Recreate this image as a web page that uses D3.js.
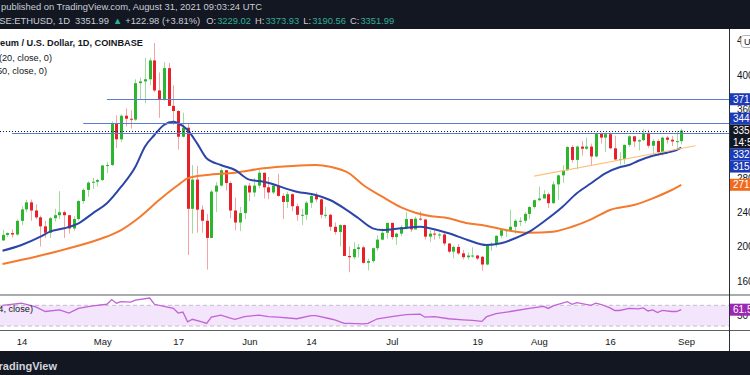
<!DOCTYPE html>
<html>
<head>
<meta charset="utf-8">
<script src="https://cdn.jsdelivr.net/npm/d3@7"></script>
<style>
  body { margin: 0; background: #fff; }
  svg { display: block; font-family: "Liberation Sans", Arial, sans-serif; }
</style>
</head>
<body>
<svg id="chart" width="750" height="375"></svg>
<script>
// daily candles: date, open, high, low, close
var candles = [
  ["2021-04-10",2071,2196,2064,2135],["2021-04-11",2135,2165,2113,2157],["2021-04-12",2157,2200,2105,2140],
  ["2021-04-13",2140,2318,2125,2299],["2021-04-14",2299,2470,2250,2433],["2021-04-15",2433,2545,2400,2515],
  ["2021-04-16",2515,2548,2300,2420],["2021-04-17",2420,2493,2320,2340],["2021-04-18",2340,2360,2000,2235],
  ["2021-04-19",2235,2300,2100,2160],["2021-04-20",2160,2345,2100,2330],["2021-04-21",2330,2440,2290,2365],
  ["2021-04-22",2365,2645,2320,2400],["2021-04-23",2400,2420,2100,2365],["2021-04-24",2365,2370,2150,2210],
  ["2021-04-25",2210,2350,2185,2320],["2021-04-26",2320,2545,2300,2530],["2021-04-27",2530,2675,2500,2660],
  ["2021-04-28",2660,2760,2580,2745],["2021-04-29",2745,2800,2670,2755],["2021-04-30",2755,2790,2700,2775],
  ["2021-05-01",2775,2950,2760,2945],["2021-05-02",2945,2985,2855,2950],["2021-05-03",2950,3460,2940,3430],
  ["2021-05-04",3430,3530,3150,3250],["2021-05-05",3250,3540,3220,3525],["2021-05-06",3525,3610,3400,3490],
  ["2021-05-07",3490,3590,3375,3480],["2021-05-08",3480,3950,3465,3905],["2021-05-09",3905,3970,3710,3925],
  ["2021-05-10",3925,4200,3670,3950],["2021-05-11",3950,4200,3880,4170],["2021-05-12",4170,4372,3800,3820],
  ["2021-05-13",3820,4030,3500,3720],["2021-05-14",3720,4150,3700,4080],["2021-05-15",4080,4140,3640,3640],
  ["2021-05-16",3640,3880,3420,3580],["2021-05-17",3580,3590,3130,3280],["2021-05-18",3280,3560,3270,3385],
  ["2021-05-19",3385,3440,1900,2440],["2021-05-20",2440,2950,2150,2780],["2021-05-21",2780,2940,2160,2430],
  ["2021-05-22",2430,2480,2160,2300],["2021-05-23",2300,2380,1730,2100],["2021-05-24",2100,2660,2100,2640],
  ["2021-05-25",2640,2750,2400,2710],["2021-05-26",2710,2910,2700,2890],["2021-05-27",2890,2890,2650,2740],
  ["2021-05-28",2740,2760,2330,2420],["2021-05-29",2420,2570,2190,2280],["2021-05-30",2280,2460,2180,2390],
  ["2021-05-31",2390,2720,2320,2710],["2021-06-01",2710,2740,2530,2630],["2021-06-02",2630,2800,2580,2710],
  ["2021-06-03",2710,2890,2680,2860],["2021-06-04",2860,2860,2560,2690],["2021-06-05",2690,2810,2550,2630],
  ["2021-06-06",2630,2740,2610,2710],["2021-06-07",2710,2850,2580,2590],["2021-06-08",2590,2620,2320,2520],
  ["2021-06-09",2520,2640,2450,2610],["2021-06-10",2610,2620,2410,2470],["2021-06-11",2470,2500,2300,2370],
  ["2021-06-12",2370,2440,2250,2370],["2021-06-13",2370,2530,2310,2510],["2021-06-14",2510,2620,2450,2590],
  ["2021-06-15",2590,2630,2520,2550],["2021-06-16",2550,2560,2330,2370],["2021-06-17",2370,2460,2330,2370],
  ["2021-06-18",2370,2380,2180,2230],["2021-06-19",2230,2280,2140,2170],["2021-06-20",2170,2260,2000,2250],
  ["2021-06-21",2250,2255,1890,1890],["2021-06-22",1890,2000,1700,1875],["2021-06-23",1875,2050,1850,1970],
  ["2021-06-24",1970,2030,1870,1990],["2021-06-25",1990,2010,1800,1810],["2021-06-26",1810,1860,1720,1830],
  ["2021-06-27",1830,1990,1810,1980],["2021-06-28",1980,2130,1950,2080],["2021-06-29",2080,2210,2070,2160],
  ["2021-06-30",2160,2280,2090,2275],["2021-07-01",2275,2280,2080,2110],["2021-07-02",2110,2160,2020,2150],
  ["2021-07-03",2150,2250,2120,2225],["2021-07-04",2225,2400,2200,2320],["2021-07-05",2320,2320,2170,2200],
  ["2021-07-06",2200,2350,2200,2325],["2021-07-07",2325,2410,2300,2315],["2021-07-08",2315,2320,2080,2115],
  ["2021-07-09",2115,2190,2050,2150],["2021-07-10",2150,2190,2080,2140],["2021-07-11",2140,2160,2090,2140],
  ["2021-07-12",2140,2160,2010,2035],["2021-07-13",2035,2040,1920,1940],["2021-07-14",1940,2010,1860,1995],
  ["2021-07-15",1995,2030,1900,1920],["2021-07-16",1920,1960,1850,1875],["2021-07-17",1875,1930,1850,1895],
  ["2021-07-18",1895,1990,1870,1895],["2021-07-19",1895,1900,1840,1860],["2021-07-20",1880,1890,1720,1790],
  ["2021-07-21",1790,2030,1780,2015],["2021-07-22",2015,2050,1950,2030],["2021-07-23",2030,2130,1990,2125],
  ["2021-07-24",2125,2200,2100,2190],["2021-07-25",2190,2200,2110,2190],["2021-07-26",2190,2430,2180,2230],
  ["2021-07-27",2230,2320,2150,2300],["2021-07-28",2300,2340,2240,2300],["2021-07-29",2300,2400,2270,2380],
  ["2021-07-30",2380,2470,2320,2460],["2021-07-31",2460,2550,2440,2540],["2021-08-01",2540,2700,2530,2560],
  ["2021-08-02",2560,2660,2560,2610],["2021-08-03",2610,2630,2450,2505],["2021-08-04",2505,2760,2500,2725],
  ["2021-08-05",2725,2840,2540,2830],["2021-08-06",2830,2950,2740,2890],["2021-08-07",2890,3170,2880,3160],
  ["2021-08-08",3160,3180,2980,3010],["2021-08-09",3010,3180,2900,3165],["2021-08-10",3165,3230,3060,3140],
  ["2021-08-11",3140,3270,3130,3165],["2021-08-12",3165,3200,2950,3050],["2021-08-13",3050,3330,3040,3320],
  ["2021-08-14",3320,3330,3200,3270],["2021-08-15",3270,3330,3100,3310],["2021-08-16",3310,3330,3140,3145],
  ["2021-08-17",3145,3290,3000,3015],["2021-08-18",3015,3100,2950,3020],["2021-08-19",3020,3190,2960,3185],
  ["2021-08-20",3185,3300,3160,3285],["2021-08-21",3285,3290,3160,3225],["2021-08-22",3225,3250,3120,3240],
  ["2021-08-23",3240,3370,3230,3325],["2021-08-24",3325,3360,3150,3175],["2021-08-25",3175,3250,3080,3230],
  ["2021-08-26",3230,3250,3060,3100],["2021-08-27",3100,3280,3060,3270],["2021-08-28",3270,3290,3200,3245],
  ["2021-08-29",3245,3290,3170,3225],["2021-08-30",3225,3350,3150,3229],["2021-08-31",3229.02,3373.93,3190.56,3351.99]
];

var ma20 = [
  ["2021-04-10",1950],["2021-04-14",2017],["2021-04-18",2114],["2021-04-20",2173],["2021-04-23",2212],
  ["2021-04-26",2270],["2021-04-29",2387],["2021-05-02",2504],["2021-05-05",2697],["2021-05-08",2931],
  ["2021-05-10",3164],["2021-05-12",3300],["2021-05-14",3417],["2021-05-16",3455],["2021-05-17",3437],
  ["2021-05-19",3359],["2021-05-21",3203],["2021-05-23",3029],["2021-05-26",2950],["2021-05-29",2892],
  ["2021-06-01",2780],["2021-06-04",2756],["2021-06-11",2639],["2021-06-15",2601],["2021-06-18",2542],
  ["2021-06-21",2445],["2021-06-24",2329],["2021-06-27",2212],["2021-06-29",2192],["2021-07-03",2212],
  ["2021-07-07",2231],["2021-07-09",2212],["2021-07-13",2154],["2021-07-17",2076],["2021-07-21",2017],
  ["2021-07-24",2037],["2021-07-27",2096],["2021-07-30",2173],["2021-08-02",2289],["2021-08-06",2464],
  ["2021-08-09",2620],["2021-08-12",2737],["2021-08-15",2854],["2021-08-18",2924],["2021-08-20",2950],
  ["2021-08-22",3000],["2021-08-25",3059],["2021-08-28",3094],["2021-08-30",3125],["2021-08-31",3153.42]
];

var ma50 = [
  ["2021-04-10",1796],["2021-04-17",1881],["2021-04-24",1979],["2021-05-01",2096],["2021-05-05",2192],
  ["2021-05-09",2347],["2021-05-13",2542],["2021-05-17",2717],["2021-05-19",2795],["2021-05-23",2834],
  ["2021-05-29",2861],["2021-06-04",2912],["2021-06-10",2939],["2021-06-15",2950],["2021-06-18",2931],
  ["2021-06-22",2854],["2021-06-25",2717],["2021-06-29",2581],["2021-07-03",2457],["2021-07-06",2394],
  ["2021-07-09",2356],["2021-07-13",2329],["2021-07-17",2271],["2021-07-20",2251],["2021-07-25",2192],
  ["2021-07-30",2161],["2021-08-04",2173],["2021-08-08",2231],["2021-08-12",2317],["2021-08-16",2426],
  ["2021-08-21",2484],["2021-08-25",2562],["2021-08-29",2659],["2021-08-31",2719.86]
];

var rsi = [
  ["2021-04-10",70],["2021-04-14",74],["2021-04-17",67],["2021-04-19",58],["2021-04-22",61],["2021-04-24",55],
  ["2021-04-26",64],["2021-04-29",69],["2021-05-02",72],["2021-05-03",81],["2021-05-04",74],["2021-05-05",77],
  ["2021-05-07",76],["2021-05-08",80],["2021-05-11",84],["2021-05-12",72],["2021-05-15",66],["2021-05-16",64],
  ["2021-05-17",55],["2021-05-18",57],["2021-05-19",38],["2021-05-20",43],["2021-05-22",38],["2021-05-23",35],
  ["2021-05-24",47],["2021-05-26",51],["2021-05-28",45],["2021-05-29",43],["2021-05-31",48],["2021-06-03",51],
  ["2021-06-05",48],["2021-06-07",47],["2021-06-11",44],["2021-06-14",50],["2021-06-15",50],["2021-06-18",44],
  ["2021-06-19",42],["2021-06-21",35],["2021-06-22",35],["2021-06-25",34],["2021-06-26",35],["2021-06-28",44],
  ["2021-07-01",48],["2021-07-04",52],["2021-07-07",53],["2021-07-08",47],["2021-07-10",48],["2021-07-13",44],
  ["2021-07-16",42],["2021-07-18",41],["2021-07-20",39],["2021-07-21",48],["2021-07-23",54],["2021-07-26",58],
  ["2021-07-30",64],["2021-08-02",68],["2021-08-03",64],["2021-08-04",69],["2021-08-07",77],["2021-08-08",72],
  ["2021-08-09",75],["2021-08-12",70],["2021-08-13",74],["2021-08-14",72],["2021-08-16",65],["2021-08-17",60],
  ["2021-08-18",60],["2021-08-20",64],["2021-08-22",63],["2021-08-23",65],["2021-08-24",59],["2021-08-25",61],
  ["2021-08-26",56],["2021-08-27",60],["2021-08-29",58],["2021-08-30",58],["2021-08-31",61.53]
];

// horizontal levels drawn on the chart: start date, price
var levels = [["2021-05-02",3717.43],["2021-04-27",3441.28],["2021-04-12",3324.57]];
var trend = [["2021-07-31",2820],["2021-09-03",3175]];

var priceTicks = [1600,2000,2400,2800,3200,3600,4000,4400];
var timeTicks = ["2021-04-14","2021-05-01","2021-05-17","2021-06-01","2021-06-14","2021-07-01","2021-07-19","2021-08-01","2021-08-16","2021-09-01"];
var timeLabels = ["14","May","17","Jun","14","Jul","19","Aug","16","Sep"];
var countdown = "14:56:36";

var parseDay = d3.utcParse("%Y-%m-%d");
var bars = candles.map(function(d){ return {date: parseDay(d[0]), o: d[1], h: d[2], l: d[3], c: d[4]}; });
function pts(rows){ return rows.map(function(d){ return {date: parseDay(d[0]), v: d[1]}; }); }

var svg = d3.select("#chart");
var plotRight = 729, mainTop = 29, mainBottom = 295, rsiBottom = 330.5, axisBottom = 351;

var x = d3.scaleUtc().domain([parseDay("2021-04-14"), parseDay("2021-09-01")]).range([21.5, 686]);
var y = d3.scaleLinear().domain([2000, 4000]).range([246.5, 75]);
var r = d3.scaleLinear().domain([30, 70]).range([326, 305.3]);

svg.append("rect").attr("width", 750).attr("height", 375).attr("fill", "#fff");

var defs = svg.append("defs");
defs.append("clipPath").attr("id", "mainClip").append("rect")
    .attr("x", 0).attr("y", mainTop).attr("width", plotRight).attr("height", mainBottom - mainTop);
defs.append("clipPath").attr("id", "rsiClip").append("rect")
    .attr("x", 0).attr("y", mainBottom).attr("width", plotRight).attr("height", rsiBottom - mainBottom);

// ---- RSI pane
var rg = svg.append("g").attr("clip-path", "url(#rsiClip)");
rg.append("rect").attr("x", 0).attr("width", plotRight)
    .attr("y", r(70)).attr("height", r(30) - r(70)).attr("fill", "#f3e5fc");
[70, 30].forEach(function(v){
  rg.append("line").attr("x1", 0).attr("x2", plotRight).attr("y1", r(v)).attr("y2", r(v))
    .attr("stroke", "#c3bccb").attr("stroke-dasharray", "4,3");
});
rg.append("path").datum(pts(rsi))
    .attr("d", d3.line().x(function(d){ return x(d.date); }).y(function(d){ return r(d.v); }))
    .attr("fill", "none").attr("stroke", "#c163d6").attr("stroke-width", 1.3);

// ---- main pane
var mg = svg.append("g").attr("clip-path", "url(#mainClip)");

mg.selectAll("line.wick").data(bars).join("line")
    .attr("class", "wick")
    .attr("x1", function(d){ return Math.round(x(d.date)) + 0.5; })
    .attr("x2", function(d){ return Math.round(x(d.date)) + 0.5; })
    .attr("y1", function(d){ return y(d.h); })
    .attr("y2", function(d){ return y(d.l); })
    .attr("stroke", function(d){ return d.c >= d.o ? "#9fdc9f" : "#f5a3a3"; });

mg.selectAll("rect.body").data(bars).join("rect")
    .attr("class", "body")
    .attr("x", function(d){ return Math.round(x(d.date)) - 1; })
    .attr("width", 3)
    .attr("y", function(d){ return y(Math.max(d.o, d.c)); })
    .attr("height", function(d){ return Math.max(1, Math.abs(y(d.o) - y(d.c))); })
    .attr("fill", function(d){ return d.c >= d.o ? "#2db52d" : "#e8202a"; });

var maLine = d3.line().curve(d3.curveMonotoneX)
    .x(function(d){ return x(d.date); }).y(function(d){ return y(d.v); });
mg.append("path").datum(pts(ma50)).attr("d", maLine)
    .attr("fill", "none").attr("stroke", "#f47a2e").attr("stroke-width", 2);
mg.append("path").datum(pts(ma20)).attr("d", maLine)
    .attr("fill", "none").attr("stroke", "#2b46a6").attr("stroke-width", 2);

mg.append("line")
    .attr("x1", x(parseDay(trend[0][0]))).attr("y1", y(trend[0][1]))
    .attr("x2", x(parseDay(trend[1][0]))).attr("y2", y(trend[1][1]))
    .attr("stroke", "#ffc07a").attr("stroke-width", 1.2);

levels.forEach(function(d){
  mg.append("line").attr("x1", x(parseDay(d[0]))).attr("x2", plotRight)
    .attr("y1", Math.round(y(d[1])) + 0.5).attr("y2", Math.round(y(d[1])) + 0.5)
    .attr("stroke", "#5d7bd4").attr("stroke-width", 1);
});
var last = bars[bars.length - 1];
mg.append("line").attr("x1", 0).attr("x2", plotRight)
    .attr("y1", Math.round(y(last.c)) + 0.5).attr("y2", Math.round(y(last.c)) + 0.5)
    .attr("stroke", "#131722").attr("stroke-dasharray", "1,2");

// ---- axes
var xAxis = d3.axisBottom(x)
    .tickValues(timeTicks.map(parseDay))
    .tickFormat(function(d, i){ return timeLabels[i]; })
    .tickSize(0);
var xg = svg.append("g").attr("transform", "translate(0,342)").call(xAxis);
xg.select(".domain").remove();
xg.selectAll("text").attr("y", 0).attr("dy", "0.35em")
    .attr("fill", "#131722").style("font-size", "9.5px").style("font-family", "Liberation Sans, Arial, sans-serif");

var yAxis = d3.axisRight(y).tickValues(priceTicks).tickFormat(d3.format("d")).tickSize(0);
var yg = svg.append("g").attr("transform", "translate(734,0)").call(yAxis);
yg.select(".domain").remove();
yg.selectAll("text").attr("fill", "#131722").style("font-size", "10px")
    .style("font-family", "Liberation Sans, Arial, sans-serif");

var rAxis = d3.axisRight(r).tickValues([50]).tickSize(0);
var rag = svg.append("g").attr("transform", "translate(734,0)").call(rAxis);
rag.select(".domain").remove();
rag.selectAll("text").attr("fill", "#131722").style("font-size", "10px")
    .style("font-family", "Liberation Sans, Arial, sans-serif");

// unit box near the top of the price scale
svg.append("rect").attr("x", 741).attr("y", 35.5).attr("width", 22).attr("height", 12).attr("rx", 3)
    .attr("fill", "#fff").attr("stroke", "#b2b5be");
svg.append("text").attr("x", 744).attr("y", 45).attr("font-size", 9).attr("fill", "#131722").text("USD");

// ---- price scale labels (stacked so they do not overlap)
var lh = 12;
var tags = levels.map(function(d){ return {v: d[1], fill: "#1b3bb8"}; })
  .concat([{v: ma20[ma20.length - 1][1], fill: "#1b3bb8"}, {v: ma50[ma50.length - 1][1], fill: "#f26b1d"}]);
tags.forEach(function(t){ t.top = y(t.v) - lh / 2; });
var pTop = y(last.c) - lh / 2, pBot = pTop + 2 * lh;
var above = tags.filter(function(t){ return t.v > last.c; }).sort(function(a, b){ return a.v - b.v; });
var below = tags.filter(function(t){ return t.v <= last.c; }).sort(function(a, b){ return b.v - a.v; });
var lim = pTop;
above.forEach(function(t){ if (t.top + lh > lim) t.top = lim - lh; lim = t.top; });
lim = pBot;
below.forEach(function(t){ if (t.top < lim) t.top = lim; lim = t.top + lh; });

tags.forEach(function(t){
  svg.append("rect").attr("x", 730).attr("y", t.top).attr("width", 20).attr("height", lh).attr("fill", t.fill);
  svg.append("text").attr("x", 733).attr("y", t.top + lh / 2).attr("dy", "0.35em")
    .attr("font-size", 10).attr("fill", "#fff").text(t.v.toFixed(2));
});
svg.append("rect").attr("x", 730).attr("y", pTop).attr("width", 20).attr("height", 2 * lh).attr("fill", "#131722");
svg.append("text").attr("x", 733).attr("y", pTop + lh / 2).attr("dy", "0.35em")
    .attr("font-size", 10).attr("fill", "#fff").text(last.c.toFixed(2));
svg.append("text").attr("x", 733).attr("y", pTop + lh * 1.5).attr("dy", "0.35em")
    .attr("font-size", 10).attr("fill", "#fff").text(countdown);

var rLast = rsi[rsi.length - 1][1];
svg.append("rect").attr("x", 730).attr("y", r(rLast) - 6).attr("width", 20).attr("height", 12).attr("fill", "#9c27b0");
svg.append("text").attr("x", 733).attr("y", r(rLast)).attr("dy", "0.35em")
    .attr("font-size", 10).attr("fill", "#fff").text(rLast.toFixed(2));

// ---- separators
svg.append("line").attr("x1", 0).attr("x2", 750).attr("y1", mainBottom).attr("y2", mainBottom)
    .attr("stroke", "#8e9097").attr("stroke-width", 1.6);
svg.append("line").attr("x1", 0).attr("x2", 750).attr("y1", rsiBottom).attr("y2", rsiBottom)
    .attr("stroke", "#5d5f66").attr("stroke-width", 1);
svg.append("line").attr("x1", plotRight + 0.5).attr("x2", plotRight + 0.5).attr("y1", mainTop).attr("y2", axisBottom)
    .attr("stroke", "#2a2e39").attr("stroke-width", 1);

// ---- legends
svg.append("text").attr("x", 143).attr("y", 46).attr("text-anchor", "end")
    .attr("font-size", 9.2).attr("font-weight", "bold").attr("fill", "#131722")
    .text("Ethereum / U.S. Dollar, 1D, COINBASE");
svg.append("text").attr("x", 52).attr("y", 61).attr("text-anchor", "end")
    .attr("font-size", 9.2).attr("fill", "#131722").text("MA (20, close, 0)");
svg.append("text").attr("x", 47).attr("y", 74).attr("text-anchor", "end")
    .attr("font-size", 9.2).attr("fill", "#131722").text("MA (50, close, 0)");
svg.append("text").attr("x", 33).attr("y", 311.5).attr("text-anchor", "end")
    .attr("font-size", 9.2).attr("fill", "#131722").text("RSI (14, close)");

// ---- header and footer bands
svg.append("rect").attr("x", 0).attr("y", 0).attr("width", 750).attr("height", mainTop).attr("fill", "#131722");
svg.append("rect").attr("x", 0).attr("y", axisBottom).attr("width", 750).attr("height", 375 - axisBottom).attr("fill", "#131722");

svg.append("text").attr("x", 1).attr("y", 10).attr("font-size", 9.4).attr("fill", "#c9ccd4")
    .text("published on TradingView.com, August 31, 2021 09:03:24 UTC");
svg.append("text").attr("x", 70).attr("y", 24).attr("text-anchor", "end")
    .attr("font-size", 9.4).attr("fill", "#c9ccd4").text("COINBASE:ETHUSD, 1D");
var hl = svg.append("text").attr("x", 75).attr("y", 24).attr("font-size", 9.4);
var up = "#2fae96", wh = "#c9ccd4";
// text piece, colour, gap before it
[["3351.99", wh, 0], ["\u25B2", up, 4], ["+122.98 (+3.81%)", wh, 3],
 ["O:", wh, 6], ["3229.02", up, 1], ["H:", wh, 4], ["3373.93", up, 1],
 ["L:", wh, 4], ["3190.56", up, 1], ["C:", wh, 4], ["3351.99", up, 1]].forEach(function(p){
  hl.append("tspan").attr("fill", p[1]).attr("dx", p[2]).text(p[0]);
});

svg.append("text").attr("x", 57).attr("y", 370).attr("text-anchor", "end")
    .attr("font-size", 11).attr("font-weight", "bold").attr("fill", "#d1d4dc").text("TradingView");
</script>
</body>
</html>
